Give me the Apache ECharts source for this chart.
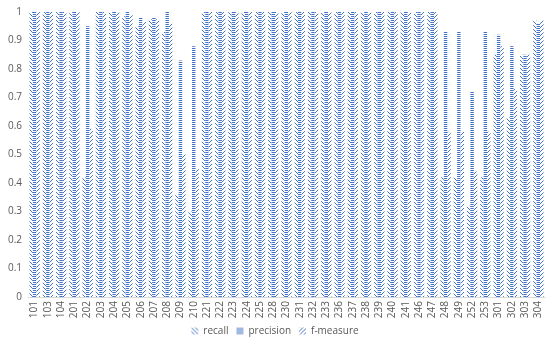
<!DOCTYPE html>
<html><head><meta charset="utf-8">
<script src="https://cdn.jsdelivr.net/npm/echarts@6/dist/echarts.min.js"></script>
<style>html,body{margin:0;padding:0;background:#fff}#c{width:550px;height:346px}</style>
</head><body><div id="c"></div>
<script>
var categories = ['101','103','104','201','202','203','204','205','206','207','208','209','210',
  '221','222','223','224','225','228','230','231','232','233','236','237','238','239','240','241','246','247',
  '248','249','252','253','301','302','303','304'];
var recall =    [1,1,1,1,0.42,1,1,0.985,0.95,0.975,0.93,0.36,0.30,
  1,1,1,1,1,1,1,1,1,1,1,1,1,1,1,1,1,1,
  0.42,0.42,0.32,0.42,0.85,0.63,0.85,0.97];
var precision = [1,1,1,1,0.95,1,1,1,0.98,0.98,1,0.83,0.88,
  1,1,1,1,1,1,1,1,1,1,1,1,1,1,1,1,1,1,
  0.93,0.93,0.72,0.93,0.92,0.88,0.85,0.96];
var fmeasure =  [1,1,1,1,0.59,1,1,0.99,0.965,0.975,0.96,0.50,0.45,
  1,1,1,1,1,1,1,1,1,1,1,1,1,1,1,1,1,1,
  0.58,0.58,0.44,0.58,0.88,0.73,0.85,0.97];
var yTicks = [0,0.1,0.2,0.3,0.4,0.5,0.6,0.7,0.8,0.9,1];

var BLUE = '#4472C4';
function makePattern(kind) {
  var c = document.createElement('canvas');
  c.width = 4; c.height = 4;
  var g = c.getContext('2d');
  g.fillStyle = '#ffffff'; g.fillRect(0,0,4,4);
  g.fillStyle = BLUE;
  var px;
  if (kind === 'down') px = [[0,0],[1,1],[2,2],[3,3]];
  else if (kind === 'up') px = [[3,0],[2,1],[1,2],[0,3]];
  else px = [[0,0],[1,0],[2,0],[3,0],[0,2],[1,2],[2,2],[3,2]];
  px.forEach(function(p){ g.fillRect(p[0],p[1],1,1); });
  return {image: c, repeat: 'repeat'};
}

var chart = echarts.init(document.getElementById('c'), null, {renderer:'canvas'});
var font = '"Open Sans", "Liberation Sans", sans-serif';
function mk(name, data, kind) {
  return {name: name, type: 'bar', data: data, barGap: '0%', barCategoryGap: '22%',
    itemStyle: {color: makePattern(kind)}, emphasis: {disabled: true}};
}
chart.setOption({
  animation: false,
  grid: {left: 28, right: 5, top: 12, bottom: 49},
  legend: {bottom: 5, left: 'center', itemWidth: 7, itemHeight: 7, itemGap: 8,
    icon: 'rect',
    textStyle: {color: '#595959', fontSize: 10, fontFamily: font},
    data: ['recall','precision','f-measure']},
  xAxis: {type: 'category', data: categories,
    axisLine: {lineStyle: {color: '#d9d9d9'}}, axisTick: {show: false},
    axisLabel: {rotate: 90, interval: 0, color: '#595959', fontSize: 10, fontFamily: font, margin: 4}},
  yAxis: {type: 'value', min: 0, max: 1, interval: 0.1,
    splitLine: {show: false}, axisLine: {show: false}, axisTick: {show: false},
    axisLabel: {color: '#595959', fontSize: 10, fontFamily: font, margin: 6,
      formatter: function(v){ var r = yTicks.find(function(t){return Math.abs(t-v)<1e-9;}); return r === undefined ? '' : String(r); }}},
  series: [mk('recall', recall, 'down'), mk('precision', precision, 'horiz'), mk('f-measure', fmeasure, 'up')]
});
</script></body></html>
